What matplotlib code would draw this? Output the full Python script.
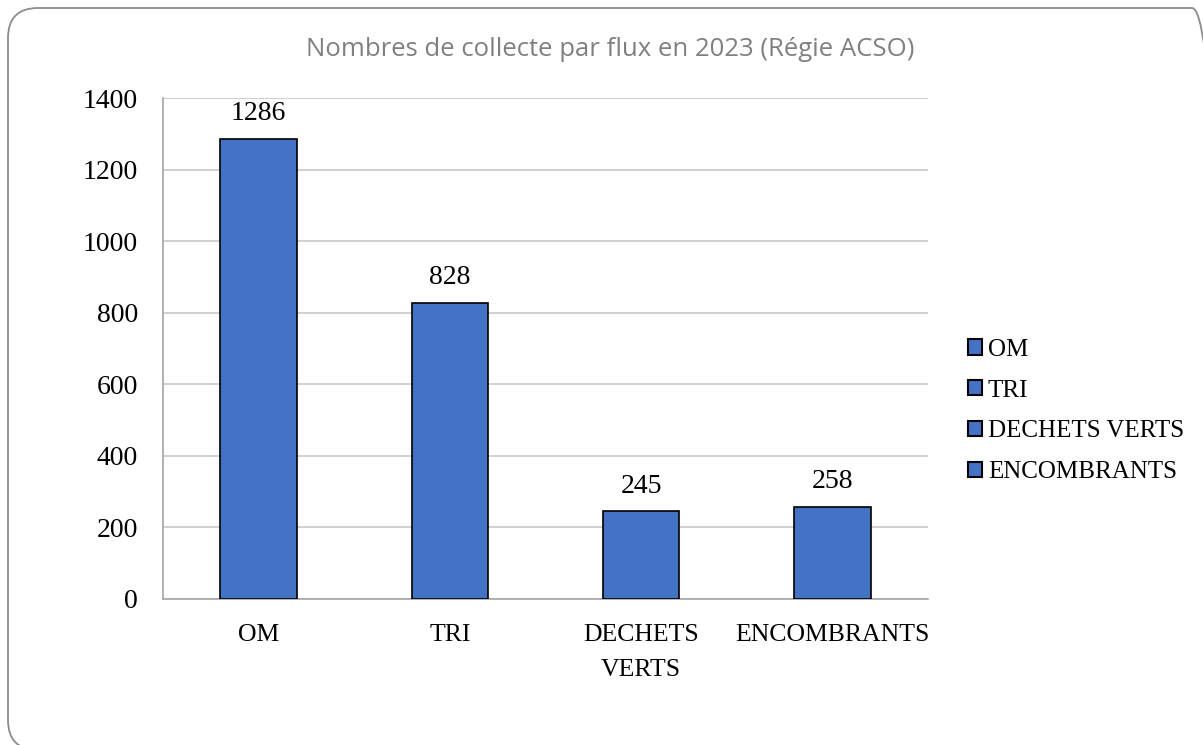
# -*- coding: utf-8 -*-
# Nombres de collecte par flux en 2023 (Régie ACSO) - histogramme
import matplotlib.pyplot as plt
from matplotlib.patches import FancyBboxPatch, Patch

categories = ['OM', 'TRI', 'DECHETS VERTS', 'ENCOMBRANTS']
tick_labels = ['OM', 'TRI', 'DECHETS\nVERTS', 'ENCOMBRANTS']
values = [1286, 828, 245, 258]

bar_color = '#4472C4'
serif = ['Liberation Serif', 'DejaVu Serif']

fig = plt.figure(figsize=(12.03, 7.45), dpi=100)

# cadre arrondi autour du graphique (en pouces)
frame = FancyBboxPatch((0.08, -0.05), 12.14, 7.42,
                       boxstyle='round,pad=0,rounding_size=0.3',
                       transform=fig.dpi_scale_trans, fc='none', ec='#8c8c8c', lw=1.3)
fig.patches.append(frame)

ax = fig.add_axes([163 / 1203, 1 - 599 / 745, (928 - 163) / 1203, (599 - 98) / 745])
x = list(range(len(values)))
bars = ax.bar(x, values, width=0.4, color=bar_color, edgecolor='black', lw=1.2, zorder=3)
for xi, v in zip(x, values):
    ax.text(xi, v + 35, str(v), ha='center', va='bottom', fontsize=20, family=serif)

ax.set_xlim(-0.5, 3.5)
ax.set_ylim(0, 1400)
ax.set_yticks(range(0, 1401, 200))
ax.set_xticks(x)
ax.set_xticklabels(tick_labels, family=serif, fontsize=18.5, linespacing=1.75)
for lbl in ax.get_yticklabels():
    lbl.set_family(serif)
    lbl.set_fontsize(20)
ax.tick_params(length=0, pad=18)
ax.tick_params(axis='x', pad=18)
ax.grid(axis='y', color='#c8c8c8', lw=1.2, zorder=0)
for s in ['top', 'right']:
    ax.spines[s].set_visible(False)
for s in ['left', 'bottom']:
    ax.spines[s].set_color('#a6a6a6')
    ax.spines[s].set_linewidth(1.2)

fig.text(610 / 1203, 1 - 50 / 745, 'Nombres de collecte par flux en 2023 (Régie ACSO)',
         ha='center', va='center', fontsize=18.5, color='#808080',
         family=['Open Sans', 'DejaVu Sans'])

handles = [Patch(facecolor=bar_color, edgecolor='black', lw=1.5) for _ in categories]
fig.legend(handles, categories, loc='center left', bbox_to_anchor=(968 / 1203, 1 - 411 / 745),
           frameon=False, prop={'family': serif, 'size': 18},
           handlelength=0.55, handleheight=0.55, handletextpad=0.25, labelspacing=0.75,
           borderaxespad=0, borderpad=0)

fig.savefig('out.png', dpi=100)
